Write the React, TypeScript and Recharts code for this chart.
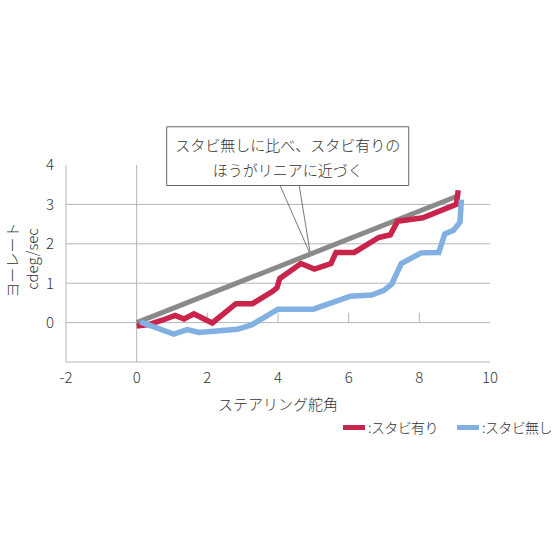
import React from "react";
import {
  Label,
  Line,
  LineChart,
  ReferenceArea,
  ReferenceLine,
  XAxis,
  YAxis,
} from "recharts";

// steering angle vs yaw rate
const stabOnX = [0, 0.34, 0.72, 1.09, 1.34, 1.62, 2.14, 2.81, 3.28, 3.84, 3.97, 4.05, 4.65, 5.03, 5.5, 5.64, 6.16, 6.85, 7.18, 7.38, 8.1, 9.05, 9.1];
const stabOnY = [-0.09, -0.05, 0.06, 0.18, 0.09, 0.22, -0.01, 0.48, 0.48, 0.79, 0.88, 1.12, 1.5, 1.36, 1.5, 1.78, 1.78, 2.16, 2.23, 2.57, 2.66, 3.0, 3.36];

const stabOffX = [0.1, 1.05, 1.43, 1.76, 2.85, 3.25, 4.0, 5.0, 6.05, 6.65, 7.0, 7.22, 7.49, 8.05, 8.55, 8.72, 8.96, 9.15, 9.19];
const stabOffY = [0.02, -0.29, -0.18, -0.25, -0.17, -0.06, 0.34, 0.34, 0.67, 0.7, 0.82, 0.98, 1.5, 1.77, 1.78, 2.25, 2.34, 2.55, 3.12];

const linearX = [0, 9.05];
const linearY = [0, 3.2];

const xTicks = [-2, 0, 2, 4, 6, 8, 10];
const yTicks = [0, 1, 2, 3, 4];
const gridY = [0, 1, 2, 3];
const minorX = [2, 4, 6, 8];

const seriesNames = [":スタビ有り", ":スタビ無し"];
const calloutLines = ["スタビ無しに比べ、スタビ有りの", "ほうがリニアに近づく"];

const RED = "#c9244b";
const BLUE = "#82b0e2";
const GRAY = "#8a8a8a";
const GRID = "#b5b5b5";
const FONT = "'Noto Sans CJK JP', 'Noto Sans', sans-serif";

const toPoints = (xs: number[], ys: number[]) =>
  xs.map((x, i) => ({ x, y: ys[i] }));

const stabOn = toPoints(stabOnX, stabOnY);
const stabOff = toPoints(stabOffX, stabOffY);
const linear = toPoints(linearX, linearY);

const CalloutText = (props: any) => {
  const vb = props.viewBox || {};
  const cx = vb.x + vb.width / 2;
  return (
    <g>
      {calloutLines.map((t, i) => (
        <text
          key={t}
          x={cx}
          y={vb.y + 24 + i * 25}
          textAnchor="middle"
          fontSize={15}
          fontWeight={300}
          fill="#333"
          fontFamily={FONT}
        >
          {t}
        </text>
      ))}
    </g>
  );
};

const App: React.FC = () => {
  return (
    <div
      style={{
        position: "fixed",
        left: 0,
        top: 0,
        width: 560,
        height: 560,
        background: "#fff",
        fontFamily: FONT,
        fontWeight: 300,
        overflow: "hidden",
      }}
    >
      <LineChart
        width={560}
        height={560}
        margin={{ top: 165, right: 70, left: 26, bottom: 168 }}
        style={{ fontFamily: FONT }}
      >
        <XAxis
          dataKey="x"
          type="number"
          domain={[-2, 10]}
          ticks={xTicks}
          height={30}
          axisLine={{ stroke: GRID }}
          tickLine={false}
          tick={{ fill: "#333", fontSize: 15, fontWeight: 300 }}
          tickMargin={4}
        >
          <Label
            value="ステアリング舵角"
            position="insideBottom"
            offset={-18}
            fill="#333"
            fontSize={15}
            fontWeight={300}
          />
        </XAxis>
        <YAxis
          dataKey="y"
          type="number"
          domain={[-1, 4]}
          ticks={yTicks}
          width={40}
          axisLine={{ stroke: GRID }}
          tickLine={false}
          tick={{ fill: "#333", fontSize: 15, fontWeight: 300 }}
          tickMargin={6}
        />
        {gridY.map((v) => (
          <ReferenceLine key={`gy${v}`} y={v} stroke={GRID} strokeWidth={1} />
        ))}
        <ReferenceLine x={0} stroke={GRID} strokeWidth={1} />
        {minorX.map((v) => (
          <ReferenceLine
            key={`mx${v}`}
            segment={[
              { x: v, y: 0 },
              { x: v, y: 0.25 },
            ]}
            stroke={GRID}
            strokeWidth={1}
          />
        ))}
        <ReferenceArea
          x1={0.85}
          x2={7.7}
          y1={3.48}
          y2={4.97}
          ifOverflow="visible"
          fill="#fff"
          fillOpacity={1}
          stroke="#666"
          strokeWidth={1}
          label={<CalloutText />}
        />
        <ReferenceLine
          segment={[
            { x: 4.06, y: 3.48 },
            { x: 4.92, y: 1.72 },
          ]}
          ifOverflow="visible"
          stroke="#555"
          strokeWidth={0.8}
        />
        <ReferenceLine
          segment={[
            { x: 4.6, y: 3.48 },
            { x: 4.92, y: 1.72 },
          ]}
          ifOverflow="visible"
          stroke="#555"
          strokeWidth={0.8}
        />
        <Line
          data={linear}
          dataKey="y"
          stroke={GRAY}
          strokeWidth={5}
          dot={false}
          isAnimationActive={false}
          legendType="none"
        />
        <Line
          data={stabOn}
          dataKey="y"
          name={seriesNames[0]}
          stroke={RED}
          strokeWidth={5.5}
          strokeLinejoin="miter"
          dot={false}
          isAnimationActive={false}
        />
        <Line
          data={stabOff}
          dataKey="y"
          name={seriesNames[1]}
          stroke={BLUE}
          strokeWidth={5.5}
          strokeLinejoin="miter"
          dot={false}
          isAnimationActive={false}
        />
      </LineChart>

      {/* y axis title */}
      <div
        style={{
          position: "absolute",
          left: 12,
          top: 260,
          transform: "translate(-50%, -50%) rotate(-90deg)",
          whiteSpace: "nowrap",
          fontSize: 15,
          color: "#333",
          lineHeight: "20px",
        }}
      >
        ヨーレート
      </div>
      <div
        style={{
          position: "absolute",
          left: 32,
          top: 259,
          transform: "translate(-50%, -50%) rotate(-90deg)",
          whiteSpace: "nowrap",
          fontSize: 15,
          color: "#333",
          lineHeight: "20px",
        }}
      >
        cdeg/sec
      </div>

      {/* legend */}
      {seriesNames.map((n, i) => (
        <div
          key={n}
          style={{
            position: "absolute",
            left: i === 0 ? 343 : 457,
            top: 417,
            display: "flex",
            alignItems: "center",
            whiteSpace: "nowrap",
            fontSize: 14,
            letterSpacing: -0.6,
            color: "#333",
          }}
        >
          <span
            style={{
              display: "inline-block",
              width: 22,
              height: 5,
              background: i === 0 ? RED : BLUE,
              marginRight: 3,
            }}
          />
          {n}
        </div>
      ))}
    </div>
  );
};

export default App;
